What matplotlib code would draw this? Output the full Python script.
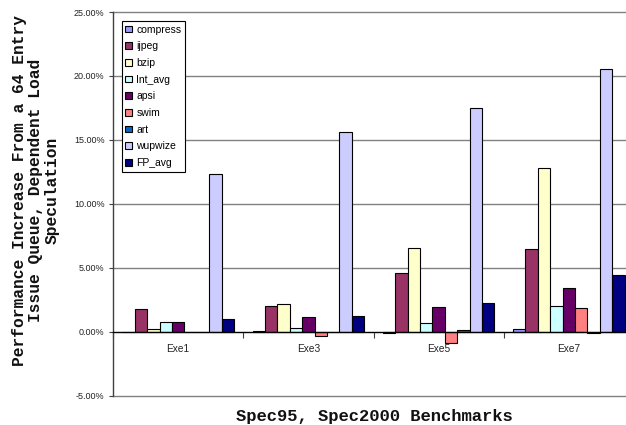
import matplotlib
matplotlib.use("Agg")
import matplotlib.pyplot as plt
import numpy as np
from matplotlib.ticker import FuncFormatter

# Configurations (x-axis categories)
categories = ["Exe1", "Exe3", "Exe5", "Exe7"]

# Performance increase (%) per benchmark
series_names = ["compress", "ijpeg", "bzip", "Int_avg", "apsi", "swim", "art", "wupwize", "FP_avg"]
compress = [-0.05, 0.05, -0.13, 0.21]
ijpeg = [1.75, 2.03, 4.61, 6.44]
bzip = [0.23, 2.14, 6.55, 12.78]
int_avg = [0.73, 0.29, 0.70, 2.03]
apsi = [0.73, 1.17, 1.93, 3.44]
swim = [0.0, -0.34, -0.90, 1.88]
art = [0.0, -0.03, 0.12, -0.13]
wupwize = [12.33, 15.60, 17.50, 20.55]
fp_avg = [0.99, 1.23, 2.22, 4.47]

yticks = [-5, 0, 5, 10, 15, 20, 25]

values = [compress, ijpeg, bzip, int_avg, apsi, swim, art, wupwize, fp_avg]
colors = ["#9999FF", "#993366", "#FFFFCC", "#CCFFFF", "#660066",
          "#FF8080", "#0066CC", "#CCCCFF", "#000080"]

W, H = 626, 425
fig = plt.figure(figsize=(W / 100, H / 100), dpi=100)
fig.patch.set_facecolor("white")

# plot area runs slightly past the right edge of the canvas
left_px, right_px, top_px, bottom_px = 113, 634, 12, 395.7
ax = fig.add_axes([left_px / W, 1 - bottom_px / H,
                   (right_px - left_px) / W, (bottom_px - top_px) / H])

n = len(values)
bw = 1.0 / (n + 1.5)
x = np.arange(len(categories))
for i, (vals, col, name) in enumerate(zip(values, colors, series_names)):
    ax.bar(x + (i - (n - 1) / 2) * bw, vals, width=bw, color=col,
           edgecolor="black", linewidth=0.8, label=name, zorder=3)

ax.set_xlim(-0.5, len(categories) - 0.5)
ax.set_ylim(-5, 25)
ax.set_yticks(yticks)
ax.yaxis.set_major_formatter(FuncFormatter(lambda v, p: f"{v:.2f}%"))

# horizontal gridlines (the top one doubles as the plot border)
for yv in yticks:
    if yv != 0:
        ax.axhline(yv, color="#808080", linewidth=1.0, zorder=0, clip_on=False)

for s in ["top", "right"]:
    ax.spines[s].set_visible(False)
ax.spines["left"].set_color("#404040")
ax.spines["left"].set_linewidth(1.0)
ax.spines["bottom"].set_position(("data", 0))
ax.spines["bottom"].set_color("black")
ax.spines["bottom"].set_linewidth(1.0)
ax.spines["bottom"].set_zorder(4)

ax.set_xticks(x)
ax.set_xticklabels(categories, fontsize=7.3, color="#222222",
                   fontfamily="Liberation Sans")
ax.set_xticks(np.arange(len(categories) + 1) - 0.5, minor=True)
ax.tick_params(axis="x", which="major", length=0, pad=8.5)
ax.tick_params(axis="x", which="minor", length=4, width=0.8, direction="out", color="#404040")
ax.tick_params(axis="y", length=3, width=0.8, direction="out", color="#404040",
               labelsize=6.5, labelcolor="#222222", pad=3)
for lab in ax.get_yticklabels():
    lab.set_fontfamily("Liberation Sans")

fig.text(36 / W, 1 - 190 / H,
         "Performance Increase From a 64 Entry\nIssue Queue, Dependent Load\nSpeculation",
         rotation=90, ha="center", va="center", multialignment="center",
         fontsize=11.7, fontweight="bold", fontfamily="Liberation Mono",
         linespacing=1.1, color="#111111")
fig.text(374 / W, 1 - 416 / H, "Spec95, Spec2000 Benchmarks",
         ha="center", va="center", fontsize=12.3, fontweight="bold",
         fontfamily="Liberation Mono", color="#111111")

leg = ax.legend(loc="upper left", bbox_to_anchor=(121.7 / W, 1 - 21 / H),
                bbox_transform=fig.transFigure, borderaxespad=0,
                prop={"family": "Liberation Sans", "size": 7.5},
                handlelength=0.6, handleheight=0.6, handletextpad=0.45,
                labelspacing=0.64, borderpad=0.35, frameon=True, fancybox=False,
                framealpha=1, edgecolor="black")
leg.get_frame().set_linewidth(0.8)
leg.set_zorder(10)

fig.savefig("out.png", dpi=100)
